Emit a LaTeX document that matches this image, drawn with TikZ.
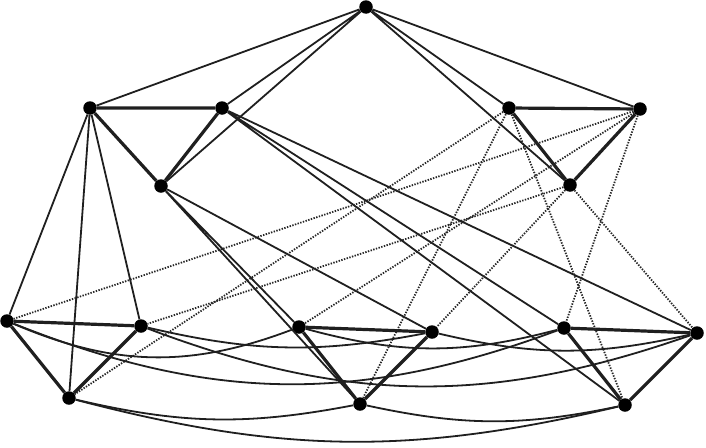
\documentclass[tikz,border=0pt]{standalone}
\usepackage{tikz}
\usetikzlibrary{
    arrows.meta,
    positioning,
}
\tikzstyle{vertex}=[circle, fill=black, inner sep=0pt, minimum size=13.5pt]
\tikzstyle{edge}=[line width=1.8pt, black!88]
\tikzstyle{tri}=[line width=3.2pt, black!88]
\tikzstyle{link}=[line width=1.8pt, black!85, dash pattern=on 1.4pt off 1.4pt]

\begin{document}
\begin{tikzpicture}[x=1pt, y=-1pt]
            \useasboundingbox (0,0) rectangle (706,447);
            % apex
            \node[vertex] (top) at (366,7) {};
            % upper triangles
            \node[vertex] (ula) at (90,108) {};
            \node[vertex] (ulb) at (222,108) {};
            \node[vertex] (ulc) at (161,186) {};
            \node[vertex] (ura) at (509,108) {};
            \node[vertex] (urb) at (640,109) {};
            \node[vertex] (urc) at (570,185) {};
            % lower triangles
            \node[vertex] (bla) at (7,321) {};
            \node[vertex] (blb) at (141,326) {};
            \node[vertex] (blc) at (69,398) {};
            \node[vertex] (bma) at (299,327) {};
            \node[vertex] (bmb) at (432,332) {};
            \node[vertex] (bmc) at (360,404) {};
            \node[vertex] (bra) at (564,328) {};
            \node[vertex] (brb) at (697,333) {};
            \node[vertex] (brc) at (625,405) {};

            \draw[tri] (ula) -- (ulb) -- (ulc) -- (ula);
            \draw[tri] (ura) -- (urb) -- (urc) -- (ura);
            \draw[tri] (bla) -- (blb) -- (blc) -- (bla);
            \draw[tri] (bma) -- (bmb) -- (bmc) -- (bma);
            \draw[tri] (bra) -- (brb) -- (brc) -- (bra);

            \draw[edge] (top) -- (ula) (top) -- (ulb) (top) -- (ulc);
            \draw[edge] (top) -- (ura) (top) -- (urb) (top) -- (urc);

            \draw[edge] (ula) -- (bla) (ula) -- (blb) (ula) -- (blc);
            \draw[edge] (ulc) -- (bma) (ulc) -- (bmb) (ulc) -- (bmc);
            \draw[edge] (ulb) -- (bra) (ulb) -- (brb) (ulb) -- (brc);

            \draw[link] (ura) -- (blc) (ura) -- (bmc) (ura) -- (brc);
            \draw[link] (urb) -- (bla) (urb) -- (bma) (urb) -- (bra);
            \draw[link] (urc) -- (blb) (urc) -- (bmb) (urc) -- (brb);

            % arcs along the bottom
            \draw[edge] (bla) to[bend right=22] (bma);
            \draw[edge] (blb) to[bend right=12] (bmb);
            \draw[edge] (blc) to[bend right=12] (bmc);
            \draw[edge] (bma) to[bend right=15] (bra);
            \draw[edge] (bmb) to[bend right=13] (brb);
            \draw[edge] (bmc) to[bend right=12] (brc);
            \draw[edge] (bla) to[bend right=21] (bra);
            \draw[edge] (blb) to[bend right=20] (brb);
            \draw[edge] (blc) to[bend right=14] (brc);
        \end{tikzpicture}
\end{document}
